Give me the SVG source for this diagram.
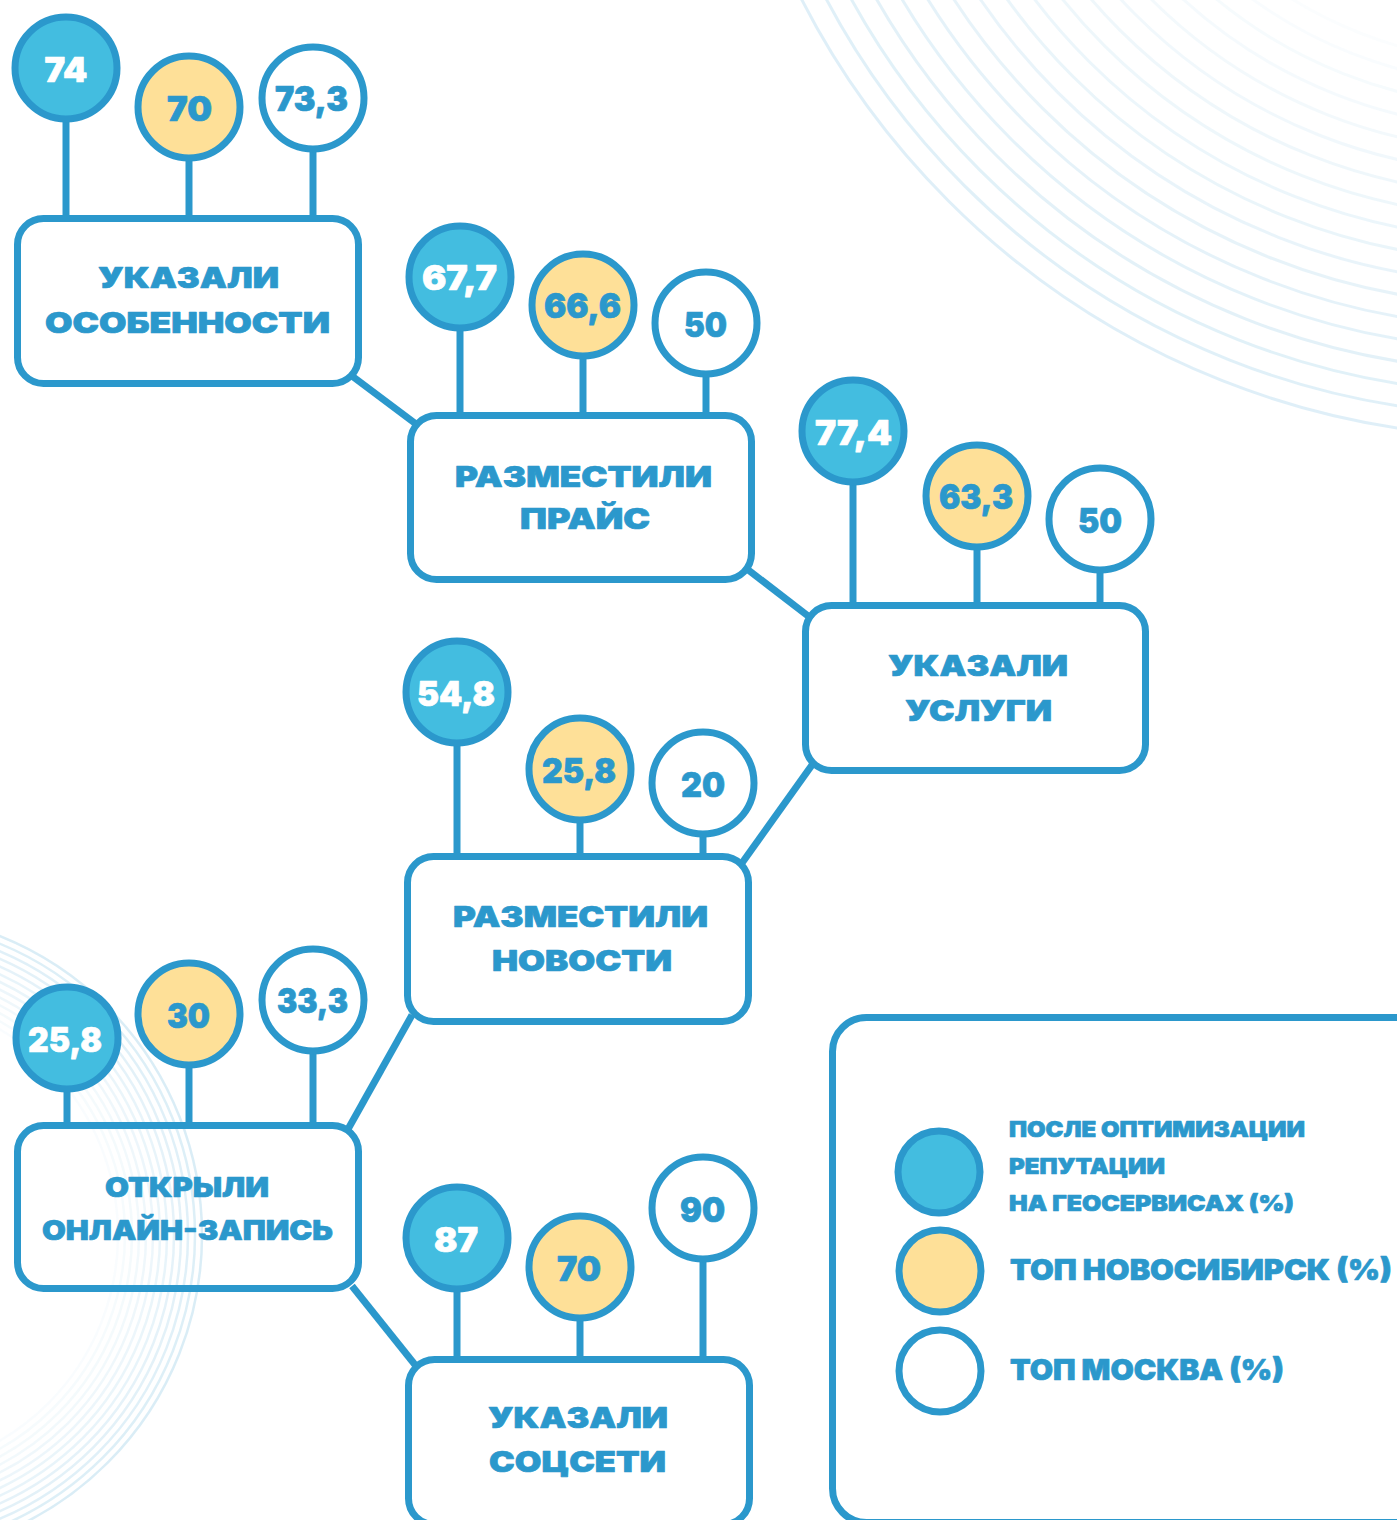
<svg xmlns="http://www.w3.org/2000/svg" width="1397" height="1520" viewBox="0 0 1397 1520">
<style>
.box{fill:none;stroke:#2b98cc;stroke-width:7}
.stem{stroke:#2b98cc;stroke-width:7;fill:none}
.conn{stroke:#2b98cc;stroke-width:7;fill:none}
.cb{fill:#43bde0;stroke:#2b98cc;stroke-width:7}
.cy{fill:#fee098;stroke:#2b98cc;stroke-width:7}
.cw{fill:#ffffff;stroke:#2b98cc;stroke-width:7}
text{font-family:Inter,"DejaVu Sans","Liberation Sans",sans-serif;font-weight:900;stroke-width:0.7;stroke-linejoin:round}
.lbl{font-size:29px;fill:#2b98cc;stroke:#2b98cc;text-anchor:middle}
.lbl5{font-size:27px;fill:#2b98cc;stroke:#2b98cc;text-anchor:middle}
.nw{font-size:34px;fill:#ffffff;stroke:#ffffff;text-anchor:middle}
.nb{font-size:34px;fill:#2b98cc;stroke:#2b98cc;text-anchor:middle}
.ls{font-size:22px;fill:#2b98cc;stroke:#2b98cc}
.ll{font-size:29px;fill:#2b98cc;stroke:#2b98cc}
.arc{fill:none;stroke:#d4eaf5;stroke-width:3}
.arc2{fill:none;stroke:#d4eaf5;stroke-width:2.5}
</style>
<rect width="1397" height="1520" fill="#ffffff"/>
<g id="background-arcs">
<circle class="arc" cx="1518" cy="-368" r="805" opacity="0.75"/>
<circle class="arc" cx="1518" cy="-368" r="783" opacity="0.72"/>
<circle class="arc" cx="1518" cy="-368" r="761" opacity="0.69"/>
<circle class="arc" cx="1518" cy="-368" r="739" opacity="0.66"/>
<circle class="arc" cx="1518" cy="-368" r="717" opacity="0.63"/>
<circle class="arc" cx="1518" cy="-368" r="695" opacity="0.6"/>
<circle class="arc" cx="1518" cy="-368" r="673" opacity="0.56"/>
<circle class="arc" cx="1518" cy="-368" r="651" opacity="0.52"/>
<circle class="arc" cx="1518" cy="-368" r="629" opacity="0.48"/>
<circle class="arc" cx="1518" cy="-368" r="607" opacity="0.44"/>
<circle class="arc" cx="1518" cy="-368" r="585" opacity="0.4"/>
<circle class="arc" cx="1518" cy="-368" r="563" opacity="0.36"/>
<circle class="arc" cx="1518" cy="-368" r="541" opacity="0.32"/>
<circle class="arc" cx="1518" cy="-368" r="519" opacity="0.28"/>
<circle class="arc" cx="1518" cy="-368" r="497" opacity="0.24"/>
<circle class="arc" cx="1518" cy="-368" r="475" opacity="0.2"/>
<circle class="arc" cx="1518" cy="-368" r="453" opacity="0.15"/>
<circle class="arc" cx="1518" cy="-368" r="431" opacity="0.1"/>
<circle class="arc2" cx="-120" cy="1235" r="322" opacity="0.85"/>
<circle class="arc2" cx="-120" cy="1235" r="315" opacity="0.78"/>
<circle class="arc2" cx="-120" cy="1235" r="308" opacity="0.72"/>
<circle class="arc2" cx="-120" cy="1235" r="301" opacity="0.66"/>
<circle class="arc2" cx="-120" cy="1235" r="294" opacity="0.6"/>
<circle class="arc2" cx="-120" cy="1235" r="287" opacity="0.54"/>
<circle class="arc2" cx="-120" cy="1235" r="280" opacity="0.48"/>
<circle class="arc2" cx="-120" cy="1235" r="273" opacity="0.42"/>
<circle class="arc2" cx="-120" cy="1235" r="266" opacity="0.36"/>
<circle class="arc2" cx="-120" cy="1235" r="259" opacity="0.3"/>
<circle class="arc2" cx="-120" cy="1235" r="252" opacity="0.25"/>
<circle class="arc2" cx="-120" cy="1235" r="245" opacity="0.2"/>
<circle class="arc2" cx="-120" cy="1235" r="238" opacity="0.15"/>
</g>
<g id="connectors">
<line class="conn" x1="352" y1="376" x2="416" y2="424"/>
<line class="conn" x1="747" y1="569" x2="812" y2="619"/>
<line class="conn" x1="812" y1="765" x2="742" y2="863"/>
<line class="conn" x1="412" y1="1015" x2="347" y2="1131"/>
<line class="conn" x1="352" y1="1286" x2="416" y2="1366"/>
</g>
<g id="node-osobennosti">
<line class="stem" x1="66" y1="119" x2="66" y2="219"/>
<line class="stem" x1="189" y1="158" x2="189" y2="219"/>
<line class="stem" x1="313" y1="149" x2="313" y2="219"/>
<rect class="box" x="17.5" y="218.5" width="341" height="165" rx="26"/>
<text class="lbl" x="188.5" y="288" textLength="181" lengthAdjust="spacingAndGlyphs">УКАЗАЛИ</text>
<text class="lbl" x="187.5" y="333" textLength="285" lengthAdjust="spacingAndGlyphs">ОСОБЕННОСТИ</text>
<circle class="cb" cx="66" cy="68" r="51"/>
<text class="nw" x="66" y="82" textLength="43" lengthAdjust="spacingAndGlyphs">74</text>
<circle class="cy" cx="189" cy="107" r="51"/>
<text class="nb" x="189.5" y="121" textLength="45" lengthAdjust="spacingAndGlyphs">70</text>
<circle class="cw" cx="313" cy="98" r="51"/>
<text class="nb" x="311.5" y="111" textLength="73" lengthAdjust="spacingAndGlyphs">73,3</text>
</g>
<g id="node-prais">
<line class="stem" x1="460" y1="328" x2="460" y2="416"/>
<line class="stem" x1="583" y1="356" x2="583" y2="416"/>
<line class="stem" x1="706" y1="374" x2="706" y2="416"/>
<rect class="box" x="410.5" y="415.5" width="341" height="164" rx="26"/>
<text class="lbl" x="583.5" y="487" textLength="257" lengthAdjust="spacingAndGlyphs">РАЗМЕСТИЛИ</text>
<text class="lbl" x="585" y="529" textLength="130" lengthAdjust="spacingAndGlyphs">ПРАЙС</text>
<circle class="cb" cx="460" cy="277" r="51"/>
<text class="nw" x="459.5" y="290" textLength="75" lengthAdjust="spacingAndGlyphs">67,7</text>
<circle class="cy" cx="583" cy="305" r="51"/>
<text class="nb" x="582.5" y="318" textLength="77" lengthAdjust="spacingAndGlyphs">66,6</text>
<circle class="cw" cx="706" cy="323" r="51"/>
<text class="nb" x="705.5" y="337" textLength="43" lengthAdjust="spacingAndGlyphs">50</text>
</g>
<g id="node-uslugi">
<line class="stem" x1="853" y1="482" x2="853" y2="606"/>
<line class="stem" x1="977" y1="547" x2="977" y2="606"/>
<line class="stem" x1="1100" y1="570" x2="1100" y2="606"/>
<rect class="box" x="805.5" y="605.5" width="340" height="165" rx="26"/>
<text class="lbl" x="978" y="676" textLength="180" lengthAdjust="spacingAndGlyphs">УКАЗАЛИ</text>
<text class="lbl" x="978.5" y="721" textLength="147" lengthAdjust="spacingAndGlyphs">УСЛУГИ</text>
<circle class="cb" cx="853" cy="431" r="51"/>
<text class="nw" x="853.5" y="445" textLength="77" lengthAdjust="spacingAndGlyphs">77,4</text>
<circle class="cy" cx="977" cy="496" r="51"/>
<text class="nb" x="976" y="509" textLength="74" lengthAdjust="spacingAndGlyphs">63,3</text>
<circle class="cw" cx="1100" cy="519" r="51"/>
<text class="nb" x="1100" y="533" textLength="44" lengthAdjust="spacingAndGlyphs">50</text>
</g>
<g id="node-novosti">
<line class="stem" x1="457" y1="743" x2="457" y2="857"/>
<line class="stem" x1="580" y1="820" x2="580" y2="857"/>
<line class="stem" x1="703" y1="834" x2="703" y2="857"/>
<rect class="box" x="407.5" y="856.5" width="341" height="165" rx="26"/>
<text class="lbl" x="580.5" y="927" textLength="255" lengthAdjust="spacingAndGlyphs">РАЗМЕСТИЛИ</text>
<text class="lbl" x="582" y="971" textLength="180" lengthAdjust="spacingAndGlyphs">НОВОСТИ</text>
<circle class="cb" cx="457" cy="692" r="51"/>
<text class="nw" x="456" y="706" textLength="78" lengthAdjust="spacingAndGlyphs">54,8</text>
<circle class="cy" cx="580" cy="769" r="51"/>
<text class="nb" x="579" y="783" textLength="74" lengthAdjust="spacingAndGlyphs">25,8</text>
<circle class="cw" cx="703" cy="783" r="51"/>
<text class="nb" x="703" y="797" textLength="44" lengthAdjust="spacingAndGlyphs">20</text>
</g>
<g id="node-online">
<line class="stem" x1="67" y1="1089" x2="67" y2="1126"/>
<line class="stem" x1="189" y1="1065" x2="189" y2="1126"/>
<line class="stem" x1="313" y1="1051" x2="313" y2="1126"/>
<rect class="box" x="17.5" y="1125.5" width="341" height="163" rx="26"/>
<text class="lbl5" x="187" y="1197" textLength="164" lengthAdjust="spacingAndGlyphs">ОТКРЫЛИ</text>
<text class="lbl5" x="187.5" y="1240" textLength="291" lengthAdjust="spacingAndGlyphs">ОНЛАЙН-ЗАПИСЬ</text>
<circle class="cb" cx="67" cy="1038" r="51"/>
<text class="nw" x="65" y="1052" textLength="74" lengthAdjust="spacingAndGlyphs">25,8</text>
<circle class="cy" cx="189" cy="1014" r="51"/>
<text class="nb" x="188.5" y="1028" textLength="43" lengthAdjust="spacingAndGlyphs">30</text>
<circle class="cw" cx="313" cy="1000" r="51"/>
<text class="nb" x="312.5" y="1013" textLength="71" lengthAdjust="spacingAndGlyphs">33,3</text>
</g>
<g id="node-socseti">
<line class="stem" x1="457" y1="1289" x2="457" y2="1360"/>
<line class="stem" x1="580" y1="1318" x2="580" y2="1360"/>
<line class="stem" x1="703" y1="1259" x2="703" y2="1360"/>
<rect class="box" x="408.5" y="1359.5" width="341" height="165" rx="26"/>
<text class="lbl" x="578" y="1428" textLength="180" lengthAdjust="spacingAndGlyphs">УКАЗАЛИ</text>
<text class="lbl" x="577.5" y="1472" textLength="177" lengthAdjust="spacingAndGlyphs">СОЦСЕТИ</text>
<circle class="cb" cx="457" cy="1238" r="51"/>
<text class="nw" x="456" y="1252" textLength="44" lengthAdjust="spacingAndGlyphs">87</text>
<circle class="cy" cx="580" cy="1267" r="51"/>
<text class="nb" x="579" y="1281" textLength="44" lengthAdjust="spacingAndGlyphs">70</text>
<circle class="cw" cx="703" cy="1208" r="51"/>
<text class="nb" x="702.5" y="1222" textLength="45" lengthAdjust="spacingAndGlyphs">90</text>
</g>
<g id="legend">
<rect class="box" x="832.5" y="1017.5" width="700" height="505" rx="34"/>
<circle class="cb" cx="939" cy="1172" r="41"/>
<circle class="cy" cx="940" cy="1271" r="41"/>
<circle class="cw" cx="940" cy="1371" r="41"/>
<text class="ls" x="1009" y="1137" textLength="296" lengthAdjust="spacingAndGlyphs">ПОСЛЕ ОПТИМИЗАЦИИ</text>
<text class="ls" x="1009" y="1174" textLength="156" lengthAdjust="spacingAndGlyphs">РЕПУТАЦИИ</text>
<text class="ls" x="1009" y="1211" textLength="285" lengthAdjust="spacingAndGlyphs">НА ГЕОСЕРВИСАХ (%)</text>
<text class="ll" x="1010" y="1280" textLength="382" lengthAdjust="spacingAndGlyphs">ТОП НОВОСИБИРСК (%)</text>
<text class="ll" x="1010" y="1380" textLength="274" lengthAdjust="spacingAndGlyphs">ТОП МОСКВА (%)</text>
</g>
</svg>
